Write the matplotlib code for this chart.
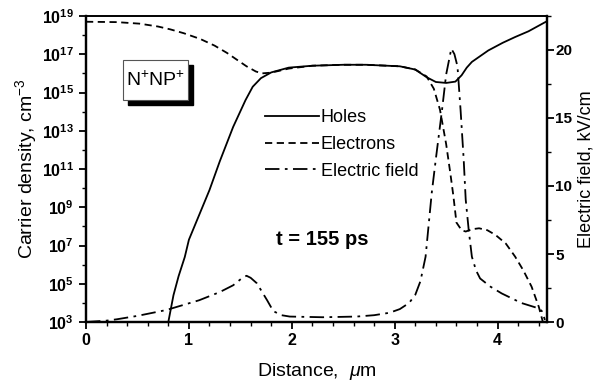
import matplotlib
matplotlib.use('Agg')
import matplotlib.pyplot as plt
from matplotlib.patches import Rectangle
from matplotlib.ticker import MultipleLocator, FixedLocator, NullFormatter

plt.rcParams['font.family'] = ['Liberation Sans', 'DejaVu Sans']
plt.rcParams['mathtext.fontset'] = 'custom'
plt.rcParams['mathtext.rm'] = 'Liberation Sans'
plt.rcParams['mathtext.it'] = 'Liberation Sans:italic'
plt.rcParams['mathtext.bf'] = 'Liberation Sans:bold'

# holes: distance (um) and log10 of density (cm^-3)
holes_x = [0.80, 0.85, 0.90, 0.96, 1.00, 1.10, 1.20, 1.30, 1.43, 1.55, 1.62, 1.70,
           1.80, 1.97, 2.20, 2.50, 2.72, 3.05, 3.20, 3.31, 3.40, 3.50, 3.59, 3.65,
           3.70, 3.75, 3.91, 4.05, 4.17, 4.30, 4.47]
holes_log = [3.0, 4.4, 5.4, 6.4, 7.3, 8.6, 9.9, 11.4, 13.2, 14.6, 15.3, 15.75,
             16.05, 16.3, 16.4, 16.45, 16.45, 16.37, 16.2, 15.8, 15.55, 15.5, 15.57, 15.9,
             16.3, 16.6, 17.2, 17.6, 17.9, 18.2, 18.7]

# electrons
elec_x = [0.00, 0.30, 0.52, 0.70, 0.82, 0.95, 1.11, 1.25, 1.37, 1.47, 1.56, 1.65,
          1.71, 1.78, 1.85, 1.97, 2.20, 2.50, 2.72, 3.05, 3.20, 3.31, 3.38, 3.44,
          3.50, 3.54, 3.57, 3.60, 3.65, 3.69, 3.75, 3.82, 3.90, 3.98, 4.08, 4.17,
          4.25, 4.33, 4.40, 4.44]
elec_log = [18.7, 18.68, 18.6, 18.45, 18.3, 18.1, 17.8, 17.45, 17.07, 16.7, 16.37, 16.1,
            16.0, 16.03, 16.1, 16.25, 16.4, 16.45, 16.45, 16.37, 16.2, 15.84, 15.2, 14.1,
            12.3, 10.8, 9.6, 8.2, 7.8, 7.73, 7.85, 7.9, 7.8, 7.55, 7.1, 6.42,
            5.7, 4.85, 3.8, 3.0]

# electric field, kV/cm
field_x = [0.00, 0.20, 0.30, 0.50, 0.78, 1.10, 1.30, 1.43, 1.52, 1.56, 1.60, 1.66,
           1.72, 1.76, 1.82, 1.90, 1.98, 2.30, 2.63, 2.80, 2.95, 3.05, 3.14, 3.20,
           3.25, 3.30, 3.36, 3.40, 3.46, 3.50, 3.55, 3.58, 3.61, 3.64, 3.67, 3.69,
           3.72, 3.75, 3.79, 3.83, 3.93, 4.04, 4.23, 4.40, 4.43, 4.46]
field_E = [0.0, 0.1, 0.2, 0.45, 0.88, 1.6, 2.2, 2.7, 3.25, 3.4, 3.25, 2.85,
           2.1, 1.6, 0.8, 0.5, 0.4, 0.35, 0.4, 0.5, 0.68, 0.95, 1.4, 2.0,
           3.0, 4.8, 9.5, 12.0, 15.6, 18.2, 20.1, 19.7, 18.8, 15.6, 12.0, 9.0,
           6.7, 4.8, 3.8, 3.2, 2.6, 2.1, 1.4, 1.0, 0.8, 0.15]

holes = [10 ** v for v in holes_log]
elec = [10 ** v for v in elec_log]

fig = plt.figure(figsize=(5.94, 3.87), dpi=100)
ax = fig.add_axes([86 / 594, 65 / 387, 461 / 594, 306 / 387])
ax2 = ax.twinx()

l1, = ax.plot(holes_x, holes, color='black', lw=1.3, label='Holes')
l2, = ax.plot(elec_x, elec, color='black', lw=1.3, dashes=(4, 2.5), label='Electrons')
l3, = ax2.plot(field_x, field_E, color='black', lw=1.3, dashes=(8, 3, 1.5, 3),
               label='Electric field')

ax.set_yscale('log')
ax.set_xlim(0, 4.48)
ax.set_ylim(1e3, 1e19)
ax2.set_ylim(0, 22.5)

ax.yaxis.set_major_locator(FixedLocator([10 ** k for k in range(3, 20, 2)]))
ax.yaxis.set_minor_locator(FixedLocator([10 ** k for k in range(4, 19, 2)]))
ax.yaxis.set_minor_formatter(NullFormatter())
ax.set_yticklabels([r'$\mathbf{10^{%d}}$' % k for k in range(3, 20, 2)])
ax.xaxis.set_major_locator(MultipleLocator(1))
ax.xaxis.set_minor_locator(MultipleLocator(0.2))
ax2.yaxis.set_major_locator(MultipleLocator(5))
ax2.yaxis.set_minor_locator(MultipleLocator(2.5))

for a in (ax, ax2):
    a.tick_params(which='major', length=5, width=1.3, labelsize=11.5)
    a.tick_params(which='minor', length=3, width=1.0)
    for s in a.spines.values():
        s.set_linewidth(1.6)
    a.spines['top'].set_linewidth(1.2)
for lab in ax.get_xticklabels() + ax2.get_yticklabels():
    lab.set_fontweight('bold')
ax.tick_params(axis='x', pad=3)
ax2.tick_params(axis='y', pad=1, labelsize=11)

ax.set_xlabel(r'Distance,  $\mathit{\mu}$m', fontsize=14, labelpad=9)
ax.set_ylabel(r'Carrier density, cm$^{-3}$', fontsize=14, labelpad=2)
ax2.set_ylabel('Electric field, kV/cm', fontsize=13)
ax2.yaxis.set_label_coords(1.067, 0.5)

ax.legend(handles=[l1, l2, l3], loc='upper left', bbox_to_anchor=(0.372, 0.72),
          frameon=False, fontsize=13, handlelength=3.0, handletextpad=0.1,
          labelspacing=0.55, borderaxespad=0)

ax.text(1.85, 10 ** 7.3, 't = 155 ps', fontsize=14.5, fontweight='bold',
        ha='left', va='center')

# N+NP+ box with shadow
ax.add_patch(Rectangle((0.091, 0.709), 0.141, 0.131, transform=ax.transAxes,
                       facecolor='black', edgecolor='black', zorder=5))
ax.add_patch(Rectangle((0.080, 0.725), 0.141, 0.131, transform=ax.transAxes,
                       facecolor='white', edgecolor='#555555', lw=0.8, zorder=6))
ax.text(0.1505, 0.79, r'N$^{+}$NP$^{+}$', transform=ax.transAxes, fontsize=14,
        ha='center', va='center', zorder=7)

fig.savefig('out.png', dpi=100)
